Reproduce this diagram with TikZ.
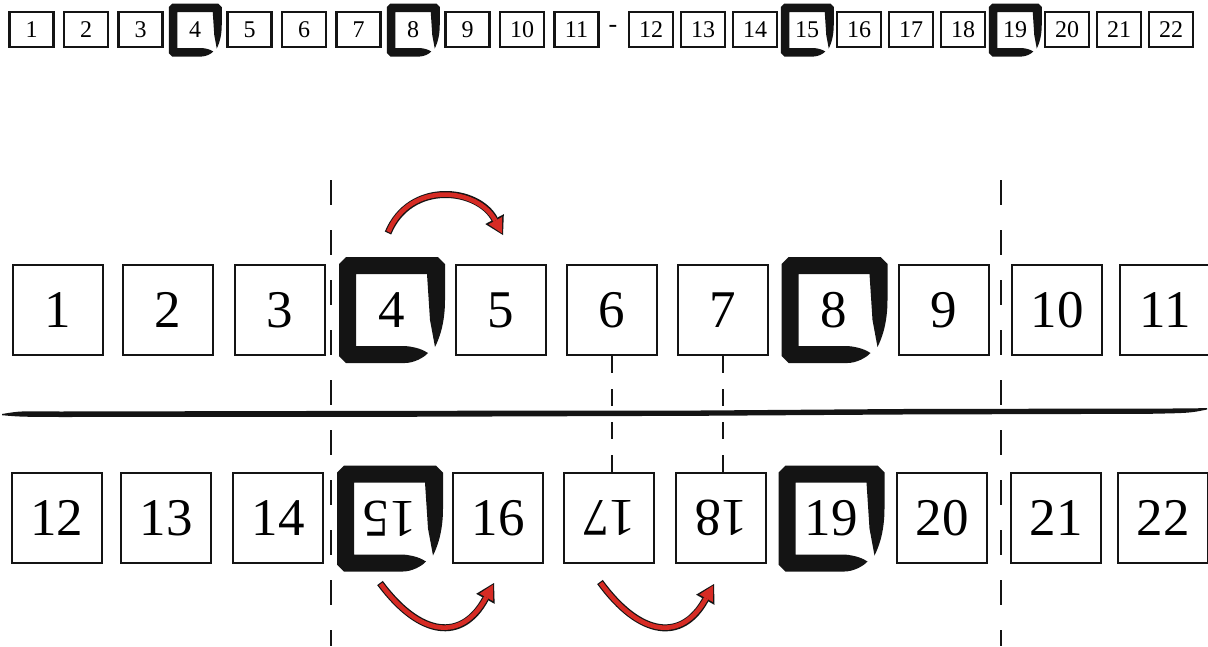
\documentclass[tikz,border=0pt]{standalone}
\usepackage{fontspec}
\setmainfont{Liberation Serif}
\usepackage{graphicx}
\usetikzlibrary{arrows.meta}
\definecolor{arrowred}{RGB}{214,43,36}
\definecolor{ink}{RGB}{20,20,20}
\tikzset{
  bigbox/.style={draw=ink, line width=2pt, minimum width=90pt, minimum height=90pt, inner sep=0pt, font=\fontsize{53}{53}\selectfont},
  bigtext/.style={minimum width=72pt, minimum height=72pt, inner sep=0pt, font=\fontsize{53}{53}\selectfont},
  smallbox/.style={draw=ink, line width=2.4pt, minimum width=44pt, minimum height=35pt, inner sep=0pt, font=\fontsize{24}{24}\selectfont},
  smalltext/.style={minimum width=36pt, minimum height=28pt, inner sep=0pt, font=\fontsize{24}{24}\selectfont},
  guide/.style={ink, line width=2pt, dash pattern=on 25pt off 25pt},
  tie/.style={ink, line width=1.6pt, dash pattern=on 17pt off 16pt},
  arrowout/.style={line width=7pt, ink, -{Triangle[length=18pt,width=21pt,line width=0pt]}},
  arrowin/.style={line width=4.6pt, arrowred, shorten >=1.8pt, shorten <=1.2pt, -{Triangle[length=14.5pt,width=15.5pt,line width=0pt]}},
  brushframe/.pic={
    \fill[ink] (-52.5,-46) -- (-45.5,-53) -- (46.5,-53) -- (53.5,-46) -- (53.5,-10)
      .. controls (53.5,15) and (47,30) .. (43.5,37)
      -- (38.5,10) -- (35.5,-36) -- (-35.5,-36) -- (-35.5,36) -- (13.5,36)
      .. controls (25,37) and (32,40) .. (36.5,43)
      .. controls (32,48) and (22,53) .. (13.5,53)
      -- (-45.5,53) -- (-52.5,46) -- cycle;
  },
}
\begin{document}
\begin{tikzpicture}[x=1pt,y=-1pt]
\useasboundingbox (0,0) rectangle (1208,646);
\fill[white] (0,0) rectangle (1208,646);

% ---------- top strip ----------
\foreach \k in {1,2,3,5,6,7,9,10,11}{
  \node[smallbox] (s\k) at ({31.5+54.5*(\k-1)},29.5) {\k};
}
\foreach \k in {4,8}{
  \node[smalltext] (s\k) at ({31.5+54.5*(\k-1)},30) {\k};
  \pic[scale=0.5] at (s\k) {brushframe};
}
\node[font=\fontsize{26}{26}\selectfont, inner sep=0pt] (sdash) at (613,29) {-};
\foreach \k in {12,13,14,16,17,18,20,21,22}{
  \node[smallbox] (s\k) at ({651+52*(\k-12)},29.5) {\k};
}
\foreach \k in {15,19}{
  \node[smalltext] (s\k) at ({651+52*(\k-12)},30) {\k};
  \pic[scale=0.5] at (s\k) {brushframe};
}

% ---------- upper row ----------
\node[bigbox] (b1) at (58,310) {1};
\node[bigbox] (b2) at (168,310) {2};
\node[bigbox] (b3) at (280,310) {3};
\node[bigtext] (b4) at (391.5,310) {4};
\pic at (b4) {brushframe};
\node[bigbox] (b5) at (501,310) {5};
\node[bigbox] (b6) at (612,310) {6};
\node[bigbox] (b7) at (723,310) {7};
\node[bigtext] (b8) at (834,310) {8};
\pic at (b8) {brushframe};
\node[bigbox] (b9) at (944,310) {9};
\node[bigbox] (b10) at (1057,310) {10};
\node[bigbox] (b11) at (1165,310) {11};

% ---------- lower row ----------
\node[bigbox] (b12) at (57,518) {12};
\node[bigbox] (b13) at (166,518) {13};
\node[bigbox] (b14) at (278,518) {14};
\node[bigtext] (b15) at (389.5,518.5) {\rotatebox[origin=c]{180}{15}};
\pic at (b15) {brushframe};
\node[bigbox] (b16) at (498,518) {16};
\node[bigbox] (b17) at (609,518) {\rotatebox[origin=c]{180}{17}};
\node[bigbox] (b18) at (721,518) {\rotatebox[origin=c]{180}{18}};
\node[bigtext] (b19) at (831,518.5) {19};
\pic at (b19) {brushframe};
\node[bigbox] (b20) at (942,518) {20};
\node[bigbox] (b21) at (1056,518) {21};
\node[bigbox] (b22) at (1163,518) {22};

% ---------- thick divider ----------
\fill[ink] (2,414) .. controls (20,411) .. (60,411.5) -- (400,410.8) -- (700,410.5)
  -- (900,409) -- (1150,408.5) .. controls (1190,408.5) .. (1207,408)
  -- (1207,409.5) .. controls (1190,413) .. (1150,413.8) -- (900,414.5)
  -- (700,415.8) -- (400,416.8) -- (60,417) .. controls (20,416.8) .. (2,415.2) -- cycle;

% ---------- dashed guides ----------
\coordinate (gL1) at (330.5,180);
\coordinate (gL2) at (330.5,646);
\coordinate (gR1) at (1001,180);
\coordinate (gR2) at (1001,646);
\draw[guide] (gL1) -- (gL2);
\draw[guide] (gR1) -- (gR2);
\draw[tie] (b6.south) -- (b6.south |- b17.north);
\draw[tie] (b7.south) -- (b7.south |- b18.north);

% ---------- red arrows ----------
\coordinate (a1s) at (388,233);
\coordinate (a1e) at (503,235);
\coordinate (a2s) at (380,583);
\coordinate (a2e) at (494,583);
\coordinate (a3s) at (600,582);
\coordinate (a3e) at (714,584);
\draw[arrowout] (a1s) .. controls (410,180) and (478,188) .. (a1e);
\draw[arrowin]  (a1s) .. controls (410,180) and (478,188) .. (a1e);
\draw[arrowout] (a2s) .. controls (420,637) and (462,642) .. (a2e);
\draw[arrowin]  (a2s) .. controls (420,637) and (462,642) .. (a2e);
\draw[arrowout] (a3s) .. controls (640,637) and (682,642) .. (a3e);
\draw[arrowin]  (a3s) .. controls (640,637) and (682,642) .. (a3e);
\end{tikzpicture}
\end{document}
